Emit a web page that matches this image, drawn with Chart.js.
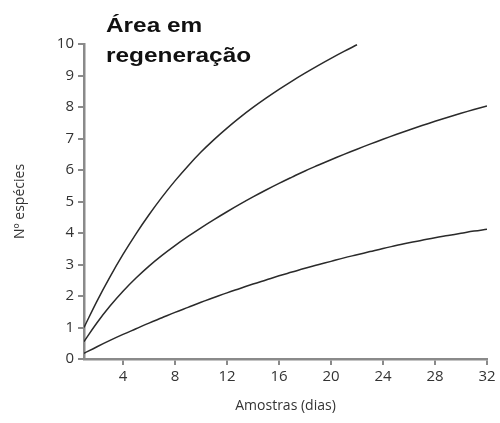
<!DOCTYPE html>
<html>
<head>
<meta charset="utf-8">
<script src="https://cdn.jsdelivr.net/npm/chart.js@4"></script>
<style>
  html, body { margin: 0; padding: 0; background: #fff; }
  #wrap { width: 500px; height: 423px; }
</style>
</head>
<body>
<div id="wrap"><canvas id="c" width="500" height="423"></canvas></div>
<script>
// Sampling days (x) and species accumulation for three curves
const days = [1,2,3,4,5,6,7,8,9,10,11,12,13,14,15,16,17,18,19,20,21,22,23,24,25,26,27,28,29,30,31,32];
const upperCurve = [1.0,1.84,2.61,3.32,3.975,4.58,5.14,5.655,6.13,6.57,6.965,7.33,7.67,7.985,8.28,8.56,8.825,9.075,9.315,9.545,9.765,9.975];
const middleCurve = [0.55,1.15,1.68,2.15,2.57,2.95,3.29,3.6,3.89,4.165,4.425,4.675,4.915,5.145,5.365,5.575,5.775,5.97,6.15,6.325,6.495,6.66,6.82,6.975,7.125,7.27,7.41,7.545,7.675,7.8,7.92,8.035];
const lowerCurve = [0.18,0.39,0.59,0.78,0.96,1.14,1.31,1.48,1.64,1.8,1.95,2.1,2.24,2.38,2.51,2.64,2.76,2.88,2.99,3.1,3.21,3.31,3.41,3.51,3.6,3.69,3.77,3.85,3.92,3.99,4.06,4.12];
const xTicks = [4,8,12,16,20,24,28,32];
const titleLines = ['Área em', 'regeneração'];
const xTitle = 'Amostras (dias)';
const yTitle = 'Nº espécies';

const toPoints = vals => vals.map((v, i) => ({ x: days[i], y: v }));

const lineStyle = {
  borderColor: '#2a2a2a',
  borderWidth: 1.5,
  pointRadius: 0,
  fill: false,
  tension: 0.4
};

// Bold heading drawn inside the plot, upper left
const headingPlugin = {
  id: 'heading',
  afterDraw(chart) {
    const ctx = chart.ctx;
    ctx.save();
    ctx.fillStyle = '#111';
    ctx.font = 'bold 20px "Liberation Sans", Arial, sans-serif';
    ctx.textBaseline = 'alphabetic';
    ctx.translate(106, 0);
    ctx.scale(1.22, 1);
    ctx.fillText(titleLines[0], 0, 32);
    ctx.fillText(titleLines[1], 0, 62);
    ctx.restore();
  }
};

const axisColor = '#8a8a8a';
const fontFamily = '"Open Sans", "DejaVu Sans", sans-serif';
const tickFont = { family: fontFamily, size: 15 };

new Chart(document.getElementById('c'), {
  type: 'line',
  data: {
    datasets: [
      Object.assign({ data: toPoints(upperCurve) }, lineStyle),
      Object.assign({ data: toPoints(middleCurve) }, lineStyle),
      Object.assign({ data: toPoints(lowerCurve) }, lineStyle)
    ]
  },
  options: {
    responsive: false,
    animation: false,
    layout: { padding: { top: 44, right: 13, left: 0, bottom: 0 } },
    plugins: { legend: { display: false }, tooltip: { enabled: false } },
    scales: {
      x: {
        type: 'linear',
        min: 1,
        max: 32,
        afterBuildTicks: s => { s.ticks = xTicks.map(v => ({ value: v })); },
        afterFit: s => { s.height = 64; },
        grid: { drawOnChartArea: false, drawTicks: true, tickLength: 6, color: axisColor, lineWidth: 2 },
        border: { display: true, color: axisColor, width: 2.5 },
        ticks: { color: '#333', font: tickFont, padding: 3, maxRotation: 0 },
        title: { display: true, text: xTitle, color: '#333', font: { family: fontFamily, size: 14 }, padding: { top: 0, bottom: 9 } }
      },
      y: {
        min: 0,
        max: 10,
        ticks: { stepSize: 1, color: '#333', font: tickFont, padding: 4 },
        afterFit: s => { s.width = 84; },
        grid: { drawOnChartArea: false, drawTicks: true, tickLength: 6, color: axisColor, lineWidth: 2 },
        border: { display: true, color: axisColor, width: 2.5 },
        title: { display: true, text: yTitle, color: '#333', font: { family: fontFamily, size: 14 }, padding: { top: 12, bottom: 0 } }
      }
    }
  },
  plugins: [headingPlugin]
});
</script>
</body>
</html>
